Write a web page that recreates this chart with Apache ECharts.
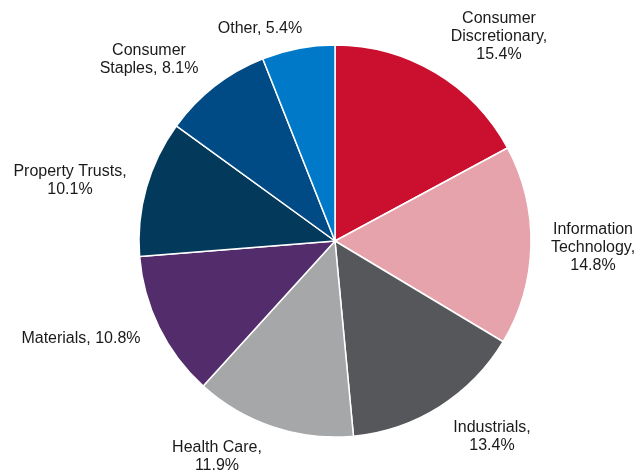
<!DOCTYPE html>
<html>
<head>
<meta charset="utf-8">
<script src="https://cdn.jsdelivr.net/npm/echarts@6/dist/echarts.min.js"></script>
<style>
html,body{margin:0;padding:0;background:#fff;}
#chart{width:638px;height:472px;}
</style>
</head>
<body>
<div id="chart"></div>
<script>
// Data
const categories = ['Consumer\nDiscretionary', 'Information\nTechnology', 'Industrials', 'Health Care', 'Materials', 'Property Trusts', 'Consumer\nStaples', 'Other'];
const values = [15.4, 14.8, 13.4, 11.9, 10.8, 10.1, 8.1, 5.4];
const valueSeparators = [',\n', ',\n', ',\n', ',\n', ', ', ',\n', ', ', ', '];

// Styles / layout
const colors = ['#CA0F2F', '#E6A3AB', '#56575B', '#A6A7A9', '#532C6C', '#033A5C', '#004A86', '#0079C9'];
const labelCenters = [[499, 37], [593, 248], [492, 437], [217, 457], [81, 339], [70, 181], [149, 60], [260, 29]];

const chart = echarts.init(document.getElementById('chart'), null, {renderer: 'canvas'});
chart.setOption({
  backgroundColor: '#ffffff',
  animation: false,
  series: [{
    type: 'pie',
    center: [335, 241],
    radius: [0, 196],
    startAngle: 90,
    clockwise: true,
    avoidLabelOverlap: false,
    itemStyle: {borderColor: '#ffffff', borderWidth: 1.5},
    label: {
      show: true,
      position: 'outside',
      fontFamily: 'Liberation Sans, Arial, sans-serif',
      fontSize: 16,
      lineHeight: 18,
      color: '#1a1a1a',
      align: 'center',
      formatter: p => p.name + valueSeparators[p.dataIndex] + values[p.dataIndex].toFixed(1) + '%'
    },
    labelLine: {show: false},
    labelLayout: p => ({
      x: labelCenters[p.dataIndex][0],
      y: labelCenters[p.dataIndex][1],
      align: 'center',
      verticalAlign: 'middle'
    }),
    emphasis: {disabled: true},
    data: categories.map((c, i) => ({name: c, value: values[i], itemStyle: {color: colors[i]}}))
  }]
});
</script>
</body>
</html>
